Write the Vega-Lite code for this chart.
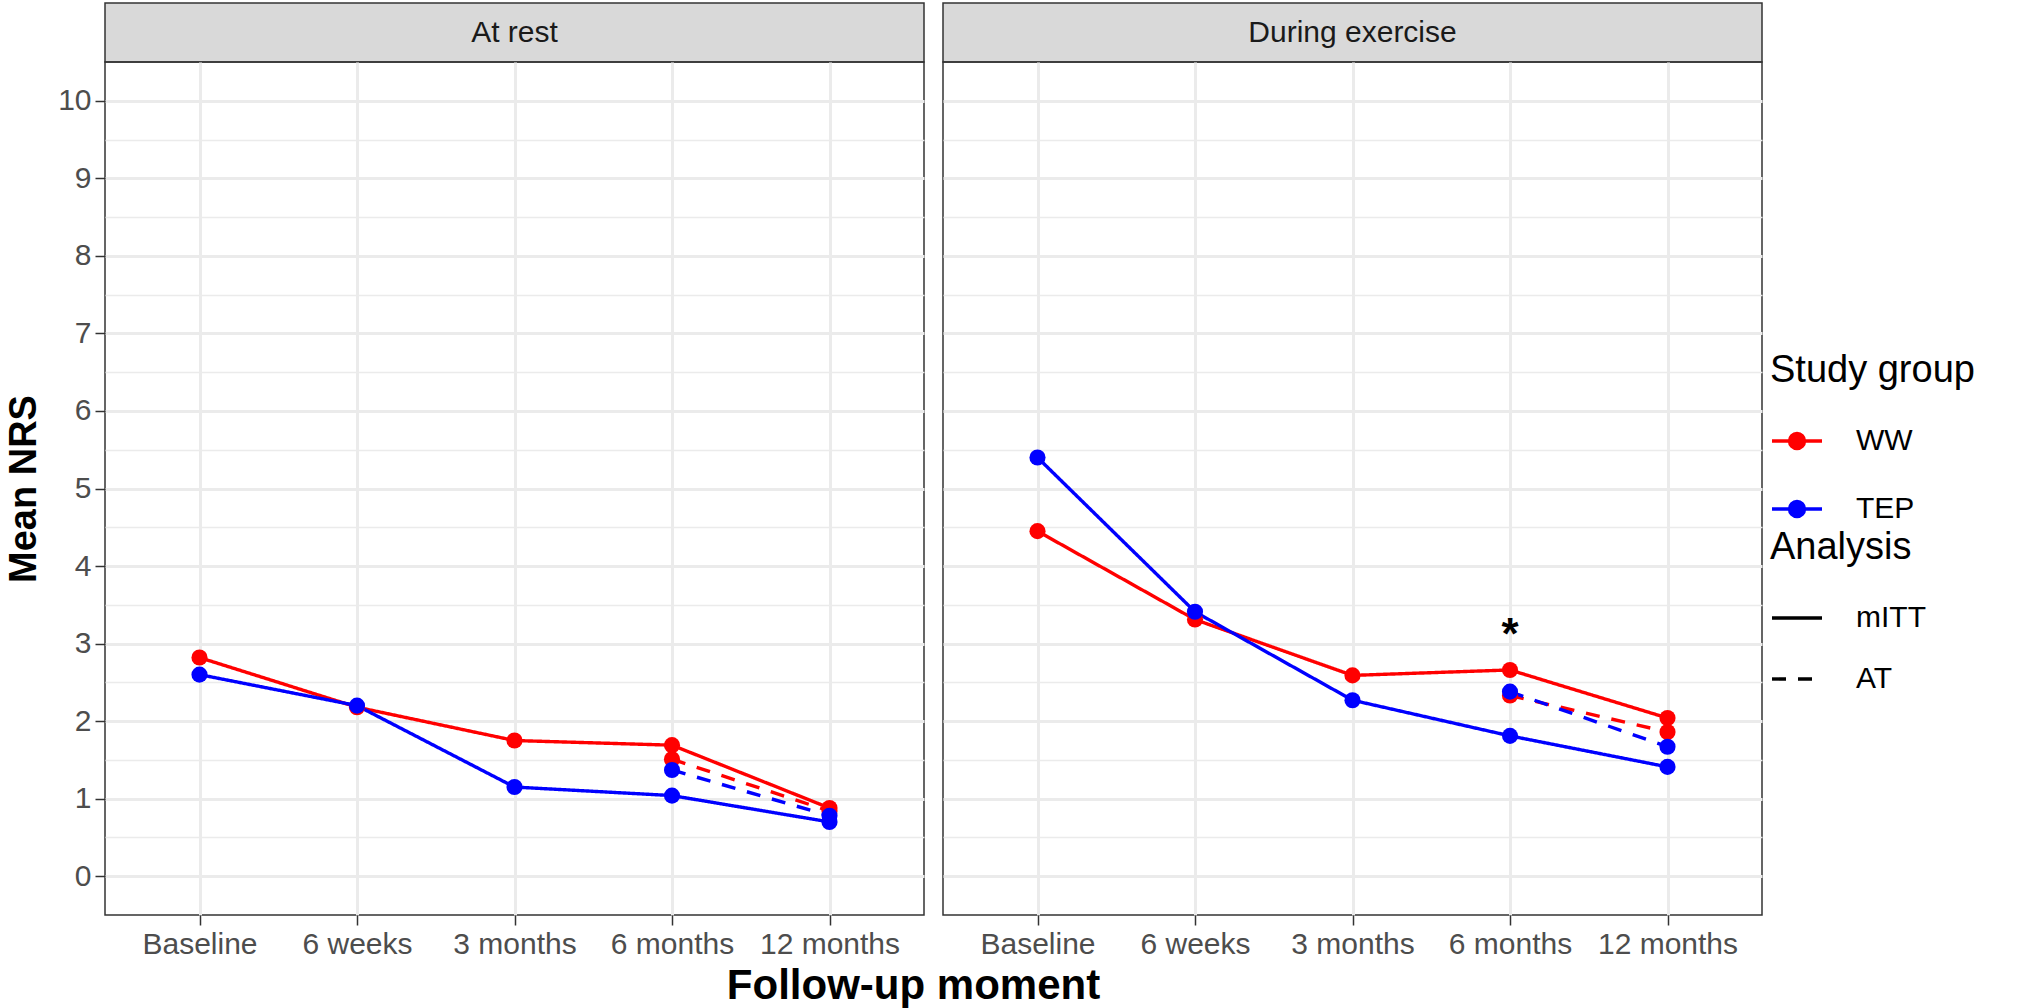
{
  "$schema": "https://vega.github.io/schema/vega-lite/v6.json",
  "padding": {"left": 4, "top": 2, "right": 0, "bottom": 0},
  "background": "white",
  "datasets": {
    "nrs": [
      {"panel": "At rest", "moment": "Baseline", "idx": 0, "group": "WW", "analysis": "mITT", "value": 2.82},
      {"panel": "At rest", "moment": "6 weeks", "idx": 1, "group": "WW", "analysis": "mITT", "value": 2.18},
      {"panel": "At rest", "moment": "3 months", "idx": 2, "group": "WW", "analysis": "mITT", "value": 1.75},
      {"panel": "At rest", "moment": "6 months", "idx": 3, "group": "WW", "analysis": "mITT", "value": 1.69},
      {"panel": "At rest", "moment": "12 months", "idx": 4, "group": "WW", "analysis": "mITT", "value": 0.88},
      {"panel": "At rest", "moment": "Baseline", "idx": 0, "group": "TEP", "analysis": "mITT", "value": 2.60},
      {"panel": "At rest", "moment": "6 weeks", "idx": 1, "group": "TEP", "analysis": "mITT", "value": 2.20},
      {"panel": "At rest", "moment": "3 months", "idx": 2, "group": "TEP", "analysis": "mITT", "value": 1.15},
      {"panel": "At rest", "moment": "6 months", "idx": 3, "group": "TEP", "analysis": "mITT", "value": 1.04},
      {"panel": "At rest", "moment": "12 months", "idx": 4, "group": "TEP", "analysis": "mITT", "value": 0.70},
      {"panel": "At rest", "moment": "6 months", "idx": 3, "group": "WW", "analysis": "AT", "value": 1.51},
      {"panel": "At rest", "moment": "12 months", "idx": 4, "group": "WW", "analysis": "AT", "value": 0.84},
      {"panel": "At rest", "moment": "6 months", "idx": 3, "group": "TEP", "analysis": "AT", "value": 1.37},
      {"panel": "At rest", "moment": "12 months", "idx": 4, "group": "TEP", "analysis": "AT", "value": 0.78},
      {"panel": "During exercise", "moment": "Baseline", "idx": 0, "group": "WW", "analysis": "mITT", "value": 4.45},
      {"panel": "During exercise", "moment": "6 weeks", "idx": 1, "group": "WW", "analysis": "mITT", "value": 3.31},
      {"panel": "During exercise", "moment": "3 months", "idx": 2, "group": "WW", "analysis": "mITT", "value": 2.59},
      {"panel": "During exercise", "moment": "6 months", "idx": 3, "group": "WW", "analysis": "mITT", "value": 2.66},
      {"panel": "During exercise", "moment": "12 months", "idx": 4, "group": "WW", "analysis": "mITT", "value": 2.04},
      {"panel": "During exercise", "moment": "Baseline", "idx": 0, "group": "TEP", "analysis": "mITT", "value": 5.40},
      {"panel": "During exercise", "moment": "6 weeks", "idx": 1, "group": "TEP", "analysis": "mITT", "value": 3.41},
      {"panel": "During exercise", "moment": "3 months", "idx": 2, "group": "TEP", "analysis": "mITT", "value": 2.27},
      {"panel": "During exercise", "moment": "6 months", "idx": 3, "group": "TEP", "analysis": "mITT", "value": 1.81},
      {"panel": "During exercise", "moment": "12 months", "idx": 4, "group": "TEP", "analysis": "mITT", "value": 1.41},
      {"panel": "During exercise", "moment": "6 months", "idx": 3, "group": "WW", "analysis": "AT", "value": 2.33},
      {"panel": "During exercise", "moment": "12 months", "idx": 4, "group": "WW", "analysis": "AT", "value": 1.86},
      {"panel": "During exercise", "moment": "6 months", "idx": 3, "group": "TEP", "analysis": "AT", "value": 2.38},
      {"panel": "During exercise", "moment": "12 months", "idx": 4, "group": "TEP", "analysis": "AT", "value": 1.67}
    ],
    "annot": [
      {"panel": "During exercise", "moment": "6 months", "value": 3.1, "label": "*"}
    ],
    "strips": [
      {"panel": "At rest"},
      {"panel": "During exercise"}
    ],
    "xtitle": [
      {"text": "Follow-up moment"}
    ]
  },
  "vconcat": [
    {
      "spacing": 17,
      "hconcat": [
        {
          "bounds": "flush",
          "spacing": 0,
          "vconcat": [
            {
              "width": 819,
              "height": 59,
              "data": {"name": "strips"},
              "transform": [{"filter": "datum.panel == 'At rest'"}],
              "view": {"fill": "#d9d9d9", "stroke": "#333333", "strokeWidth": 1.5},
              "mark": {"type": "text", "fontSize": 30, "color": "#1a1a1a", "font": "Liberation Sans"},
              "encoding": {"text": {"field": "panel"}}
            },
            {
              "width": 819,
              "height": 853,
              "data": {"name": "nrs"},
              "transform": [{"filter": "datum.panel == 'At rest'"}],
              "encoding": {
                "x": {
                  "field": "moment", "type": "ordinal",
                  "scale": {"type": "point", "padding": 0.6, "domain": ["Baseline", "6 weeks", "3 months", "6 months", "12 months"]},
                  "axis": {"title": null, "labelAngle": 0, "grid": true}
                },
                "color": {
                  "field": "group", "type": "nominal",
                  "scale": {"domain": ["WW", "TEP"], "range": ["#ff0000", "#0000ff"]},
                  "legend": {"title": "Study group", "orient": "none", "legendX": 1665, "legendY": 349, "rowPadding": 26, "titleLimit": 600, "symbolType": "M -1 0 L 1 0 M -0.3 0 A 0.3 0.3 0 1 1 0.3 0 A 0.3 0.3 0 1 1 -0.3 0 Z", "symbolSize": 2500}
                }
              },
              "layer": [
                {
                  "mark": {"type": "line", "strokeWidth": 3.4},
                  "encoding": {
                    "y": {
                      "field": "value", "type": "quantitative",
                      "scale": {"domain": [-0.5, 10.5], "nice": false, "zero": false},
                      "axis": {"title": "Mean NRS", "values": [0, 1, 2, 3, 4, 5, 6, 7, 8, 9, 10], "titlePadding": 14, "grid": true}
                    },
                    "strokeDash": {
                      "field": "analysis", "type": "nominal",
                      "scale": {"domain": ["mITT", "AT"], "range": [[1, 0], [14, 12]]},
                      "legend": {"title": "Analysis", "orient": "none", "legendX": 1665, "legendY": 526, "rowPadding": 19, "titleLimit": 600, "symbolType": "stroke", "symbolSize": 2500, "symbolStrokeColor": "#000000"}
                    },
                    "order": {"field": "idx", "type": "quantitative"}
                  }
                },
                {
                  "mark": {"type": "point", "filled": true, "size": 260, "opacity": 1},
                  "encoding": {
                    "y": {
                      "field": "value", "type": "quantitative",
                      "axis": {"title": null, "values": [0.5, 1.5, 2.5, 3.5, 4.5, 5.5, 6.5, 7.5, 8.5, 9.5], "labels": false, "ticks": false, "domain": false, "grid": true, "gridWidth": 1.5, "orient": "left"}
                    }
                  }
                }
              ],
              "resolve": {"axis": {"y": "independent"}}
            }
          ]
        },
        {
          "bounds": "flush",
          "spacing": 0,
          "vconcat": [
            {
              "width": 819,
              "height": 59,
              "data": {"name": "strips"},
              "transform": [{"filter": "datum.panel == 'During exercise'"}],
              "view": {"fill": "#d9d9d9", "stroke": "#333333", "strokeWidth": 1.5},
              "mark": {"type": "text", "fontSize": 30, "color": "#1a1a1a", "font": "Liberation Sans"},
              "encoding": {"text": {"field": "panel"}}
            },
            {
              "width": 819,
              "height": 853,
              "encoding": {
                "x": {
                  "field": "moment", "type": "ordinal",
                  "scale": {"type": "point", "padding": 0.6, "domain": ["Baseline", "6 weeks", "3 months", "6 months", "12 months"]},
                  "axis": {"title": null, "labelAngle": 0, "grid": true}
                }
              },
              "layer": [
                {
                  "data": {"name": "nrs"},
                  "transform": [{"filter": "datum.panel == 'During exercise'"}],
                  "mark": {"type": "line", "strokeWidth": 3.4},
                  "encoding": {
                    "y": {
                      "field": "value", "type": "quantitative",
                      "scale": {"domain": [-0.5, 10.5], "nice": false, "zero": false},
                      "axis": {"title": null, "values": [0, 1, 2, 3, 4, 5, 6, 7, 8, 9, 10], "labels": false, "ticks": false, "grid": true}
                    },
                    "color": {"field": "group", "type": "nominal", "scale": {"domain": ["WW", "TEP"], "range": ["#ff0000", "#0000ff"]}},
                    "strokeDash": {"field": "analysis", "type": "nominal", "scale": {"domain": ["mITT", "AT"], "range": [[1, 0], [14, 12]]}},
                    "order": {"field": "idx", "type": "quantitative"}
                  }
                },
                {
                  "data": {"name": "nrs"},
                  "transform": [{"filter": "datum.panel == 'During exercise'"}],
                  "mark": {"type": "point", "filled": true, "size": 260, "opacity": 1},
                  "encoding": {
                    "y": {
                      "field": "value", "type": "quantitative",
                      "axis": {"title": null, "values": [0.5, 1.5, 2.5, 3.5, 4.5, 5.5, 6.5, 7.5, 8.5, 9.5], "labels": false, "ticks": false, "domain": false, "grid": true, "gridWidth": 1.5, "orient": "left"}
                    },
                    "color": {"field": "group", "type": "nominal", "scale": {"domain": ["WW", "TEP"], "range": ["#ff0000", "#0000ff"]}}
                  }
                },
                {
                  "data": {"name": "annot"},
                  "mark": {"type": "text", "fontSize": 44, "fontWeight": "bold", "color": "#000000", "baseline": "middle"},
                  "encoding": {
                    "y": {"field": "value", "type": "quantitative", "axis": null},
                    "text": {"field": "label"}
                  }
                }
              ],
              "resolve": {"axis": {"y": "independent"}}
            }
          ]
        }
      ]
    },
    {
      "width": 1617,
      "height": 52,
      "data": {"name": "xtitle"},
      "view": {"stroke": null, "fill": null},
      "mark": {"type": "text", "fontSize": 42, "fontWeight": "bold", "color": "#000000", "font": "Liberation Sans"},
      "encoding": {"text": {"field": "text"}}
    }
  ],
  "spacing": 0,
  "config": {
    "font": "Liberation Sans",
    "view": {"stroke": "#333333", "strokeWidth": 1.5},
    "axis": {
      "labelFont": "Liberation Sans",
      "labelFontSize": 30,
      "labelColor": "#4d4d4d",
      "labelPadding": 4,
      "tickColor": "#333333",
      "tickSize": 10,
      "tickWidth": 1.5,
      "domain": false,
      "gridColor": "#ebebeb",
      "gridWidth": 3,
      "titleFont": "Liberation Sans",
      "titleFontSize": 38,
      "titleFontWeight": "bold",
      "titleColor": "#000000"
    },
    "legend": {
      "titleFont": "Liberation Sans",
      "titleFontSize": 38,
      "titleFontWeight": "normal",
      "titleColor": "#000000",
      "labelFont": "Liberation Sans",
      "labelFontSize": 30,
      "labelColor": "#000000",
      "symbolStrokeWidth": 3.4,
      "titlePadding": 24,
      "labelOffset": 32
    }
  }
}
